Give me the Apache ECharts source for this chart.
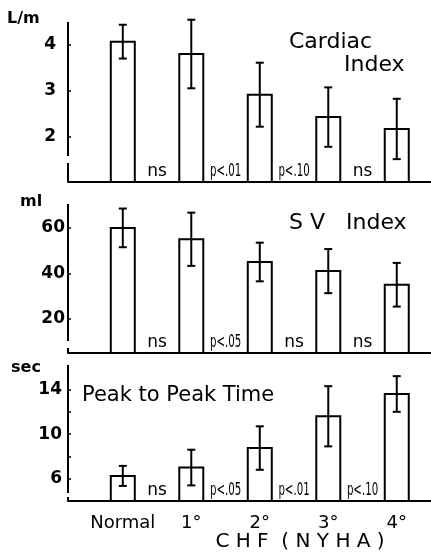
<!DOCTYPE html>
<html><head><meta charset="utf-8">
<script src="https://cdn.jsdelivr.net/npm/echarts@6/dist/echarts.min.js"></script>
<style>html,body{margin:0;padding:0;background:#fff}#c{width:431px;height:552px}</style>
</head><body><div id="c"></div>
<script>
// ---- data ----
const categories = ['Normal', '1°', '2°', '3°', '4°'];
const ciMean = [4.07, 3.80, 2.91, 2.42, 2.16];
const ciSD   = [0.37, 0.75, 0.70, 0.65, 0.66];
const ciSig  = ['ns', 'p<.01', 'p<.10', 'ns'];
const svMean = [60, 55, 45, 41, 35];
const svSD   = [8.5, 11.7, 8.5, 9.7, 9.6];
const svSig  = ['ns', 'p<.05', 'ns', 'ns'];
const pptMean = [6.25, 7.0, 8.75, 11.6, 13.6];
const pptSD   = [0.9, 1.6, 1.95, 2.7, 1.6];
const pptSig  = ['ns', 'p<.05', 'p<.01', 'p<.10'];
const ciTicks = [2, 3, 4];
const svTicks = [20, 40, 60];
const pptTicks = [6, 8, 10, 12, 14];
const pptTickLabels = [6, 10, 14];

// ---- layout / style ----
const XMIN = -0.8, XMAX = 4.5;
const panels = [
  {mean: ciMean, sd: ciSD, sig: ciSig, min: 1, max: 4.5, ticks: ciTicks, labels: ciTicks,
   unit: 'L/m', top: 22, height: 160, labelMargin: 12, brk: [19, 26]},
  {mean: svMean, sd: svSD, sig: svSig, min: 5, max: 70.5, ticks: svTicks, labels: svTicks,
   unit: 'ml', top: 204, height: 149, labelMargin: 3, brk: [5, 12]},
  {mean: pptMean, sd: pptSD, sig: pptSig, min: 4, max: 16.2, ticks: pptTicks, labels: pptTickLabels,
   unit: 'sec', top: 365, height: 136, labelMargin: 6, brk: [4, 8]}
];
const INK = '#000';
const FONT = 'DejaVu Sans';

const grid = [], xAxis = [], yAxis = [], series = [];
panels.forEach((p, gi) => {
  grid.push({left: 68, right: 0, top: p.top, height: p.height, containLabel: false});
  xAxis.push({
    type: 'value', gridIndex: gi, min: XMIN, max: XMAX,
    axisLine: {show: true, onZero: false, lineStyle: {color: INK, width: 2}},
    axisTick: {show: false}, splitLine: {show: false},
    axisLabel: gi === 2 ? {
      show: true, customValues: [0, 1, 2, 3, 4], margin: 13,
      formatter: v => categories[Math.round(v)],
      color: INK, fontFamily: FONT, fontSize: 18
    } : {show: false}
  });
  yAxis.push({
    type: 'value', gridIndex: gi, min: p.min, max: p.max,
    axisLine: {show: false, onZero: false}, splitLine: {show: false},
    axisTick: {show: true, inside: true, length: 3, customValues: p.ticks, lineStyle: {color: INK, width: 1.5}},
    axisLabel: {customValues: p.labels, margin: p.labelMargin, color: INK, fontFamily: FONT,
                fontSize: 17, fontWeight: 'bold'}
  });
  // y axis line with a break near the baseline
  series.push({
    type: 'custom', xAxisIndex: gi, yAxisIndex: gi, silent: true,
    data: [[XMIN, p.max]],
    renderItem: (params, api) => {
      const t = api.coord([XMIN, p.max]);
      const b = api.coord([XMIN, p.min]);
      const st = {stroke: INK, lineWidth: 2};
      return {type: 'group', children: [
        {type: 'line', shape: {x1: t[0], y1: t[1], x2: t[0], y2: b[1] - p.brk[1]}, style: st},
        {type: 'line', shape: {x1: t[0], y1: b[1] - p.brk[0], x2: t[0], y2: b[1]}, style: st}
      ]};
    }
  });
  // bars with error bars
  series.push({
    type: 'custom', xAxisIndex: gi, yAxisIndex: gi, silent: true,
    data: categories.map((c, i) => [i, p.mean[i], p.sd[i]]),
    renderItem: (params, api) => {
      const i = api.value(0), m = api.value(1), s = api.value(2);
      const base = api.coord([i, p.min]);
      const top = api.coord([i, m]);
      const hi = api.coord([i, m + s]);
      const lo = api.coord([i, m - s]);
      const w = 24, cap = 8;
      const st = {stroke: INK, lineWidth: 2};
      return {type: 'group', children: [
        {type: 'rect', shape: {x: top[0] - w / 2, y: top[1], width: w, height: base[1] - top[1]},
         style: {fill: '#fff', stroke: INK, lineWidth: 2}},
        {type: 'line', shape: {x1: hi[0], y1: hi[1], x2: lo[0], y2: lo[1]}, style: st},
        {type: 'line', shape: {x1: hi[0] - cap / 2, y1: hi[1], x2: hi[0] + cap / 2, y2: hi[1]}, style: st},
        {type: 'line', shape: {x1: lo[0] - cap / 2, y1: lo[1], x2: lo[0] + cap / 2, y2: lo[1]}, style: st}
      ]};
    }
  });
  // significance labels between bars
  series.push({
    type: 'custom', xAxisIndex: gi, yAxisIndex: gi, silent: true,
    data: p.sig.map((t, i) => [i + 0.5, p.min]),
    renderItem: (params, api) => {
      const pt = api.coord([api.value(0), api.value(1)]);
      const txt = p.sig[params.dataIndex];
      const narrow = txt.charAt(0) === 'p';
      return {type: 'text', x: pt[0], y: pt[1] - 2, scaleX: narrow ? 0.6 : 1,
        style: {text: txt, align: 'center', verticalAlign: 'bottom', fill: INK,
          font: '17px "DejaVu Sans"'}};
    }
  });
});

const unitStyle = {fontFamily: FONT, fontWeight: 'bold', fontSize: 16, color: INK};
const titleStyle = {fontFamily: FONT, fontWeight: 'normal', fontSize: 22, color: INK};
const chart = echarts.init(document.getElementById('c'), null, {renderer: 'canvas'});
chart.setOption({
  animation: false,
  backgroundColor: '#fff',
  title: [
    {text: panels[0].unit, left: 7, top: 11, padding: 0, textStyle: unitStyle},
    {text: panels[1].unit, left: 20, top: 194, padding: 0, textStyle: unitStyle},
    {text: panels[2].unit, left: 11, top: 360, padding: 0, textStyle: unitStyle},
    {text: 'Cardiac', left: 284, top: 26, textStyle: titleStyle},
    {text: 'Index', left: 339, top: 49, textStyle: titleStyle},
    {text: 'S V   Index', left: 284, top: 207, textStyle: titleStyle},
    {text: 'Peak to Peak Time', left: 77, top: 380, textStyle: Object.assign({}, titleStyle, {fontSize: 21})}
  ],
  graphic: [
    {type: 'text', x: 300, y: 532, style: {text: 'C H F  ( N Y H A )', align: 'center', verticalAlign: 'top',
      font: '20px "DejaVu Sans"', fill: INK}}
  ],
  grid, xAxis, yAxis, series
});
</script></body></html>
